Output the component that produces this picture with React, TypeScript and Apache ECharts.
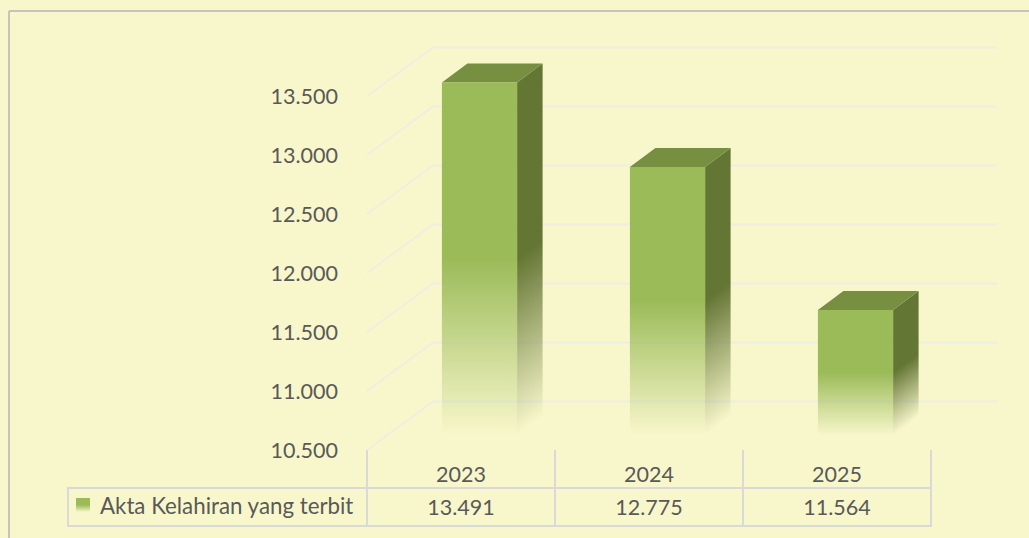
import React, { useEffect, useRef } from "react";
import * as echarts from "echarts";

const categories = ["2023", "2024", "2025"];
const seriesName = "Akta Kelahiran yang terbit";
const birthCertificates = [13491, 12775, 11564];
const axisTicks = [10500, 11000, 11500, 12000, 12500, 13000, 13500];

const BG = "#F8F7CB";
const FONT = "Lato, 'Open Sans', sans-serif";
const TEXT = "#595959";
const RULE = "#D9D9D9";
const FRAME = "#C4C4BC";
const NUM_SIZE = 21.5;
const WALL_DX = 66;
const WALL_DY = -48.5;
const BAR_SHIFT_X = 18.5;
const BAR_SHIFT_Y = -14.5;
const BAR_DX = 25.5;
const BAR_DY = -19;
const BAR_RATIO = 0.4;

const dotted = (v: number) => String(v).replace(/\B(?=(\d{3})+$)/g, ".");
const fade = (r: number, g: number, b: number) => [
  { offset: 0, color: `rgba(${r},${g},${b},1)` },
  { offset: 0.5, color: `rgba(${r},${g},${b},1)` },
  { offset: 1, color: `rgba(${r},${g},${b},0)` },
];

function renderWall(params: any, api: any) {
  const y0 = api.coord([0, api.value(1)])[1];
  const left = params.coordSys.x;
  const right = left + params.coordSys.width;
  return {
    type: "polyline",
    silent: true,
    shape: { points: [[left, y0], [left + WALL_DX, y0 + WALL_DY], [right + WALL_DX, y0 + WALL_DY]] },
    style: { stroke: "#EEEEE3", lineWidth: 2, fill: "none" },
  };
}

function renderBar(_params: any, api: any) {
  const [cx, yTop0] = api.coord([api.value(0), api.value(1)]);
  const [, yBase0] = api.coord([api.value(0), axisTicks[0]]);
  const w = api.size([1, 0])[0] * BAR_RATIO;
  const l = cx + BAR_SHIFT_X - w / 2;
  const r = l + w;
  const yTop = yTop0 + BAR_SHIFT_Y;
  const yBot = yBase0 + BAR_SHIFT_Y;
  const h = yBot - yTop;
  // Side gradient runs perpendicular to the receding top edge.
  const k = (h * BAR_DX) / (BAR_DX * BAR_DX + BAR_DY * BAR_DY);
  const sideFill = new echarts.graphic.LinearGradient(
    r, yTop, r + -BAR_DY * k, yTop + BAR_DX * k, fade(100, 118, 52), true
  );
  const frontFill = new echarts.graphic.LinearGradient(0, 0, 0, 1, fade(155, 187, 89));
  return {
    type: "group",
    silent: true,
    children: [
      {
        type: "polygon",
        shape: { points: [[r, yTop], [r + BAR_DX, yTop + BAR_DY], [r + BAR_DX, yBot + BAR_DY], [r, yBot]] },
        style: { fill: sideFill },
      },
      {
        type: "polygon",
        shape: { points: [[l, yTop], [l + BAR_DX, yTop + BAR_DY], [r + BAR_DX, yTop + BAR_DY], [r, yTop]] },
        style: { fill: "#768F41" },
      },
      {
        type: "rect",
        shape: { x: l, y: yTop, width: w, height: h },
        style: { fill: frontFill },
      },
    ],
  };
}

function renderCell(_params: any, api: any) {
  const [cx] = api.coord([api.value(0), api.value(1)]);
  return {
    type: "text",
    silent: true,
    style: {
      x: cx,
      y: 507,
      text: dotted(api.value(1)),
      align: "center",
      verticalAlign: "middle",
      fill: TEXT,
      font: `${NUM_SIZE}px ${FONT}`,
    },
  };
}

const rule = (x1: number, y1: number, x2: number, y2: number, stroke = RULE) => ({
  type: "line",
  silent: true,
  shape: { x1, y1, x2, y2 },
  style: { stroke, lineWidth: 2 },
});

export default function App() {
  const ref = useRef<HTMLDivElement>(null);
  useEffect(() => {
    document.body.style.margin = "0";
    document.body.style.background = BG;
    const chart = echarts.init(ref.current!, null, { renderer: "svg" });
    chart.setOption({
      animation: false,
      backgroundColor: BG,
      textStyle: { fontFamily: FONT },
      grid: { left: 367, top: 96, width: 564, height: 354, containLabel: false },
      xAxis: {
        type: "category",
        data: categories,
        axisLine: { show: false },
        axisTick: { show: false },
        splitLine: { show: false },
        axisLabel: { color: TEXT, fontSize: NUM_SIZE, fontFamily: FONT, margin: 13 },
      },
      yAxis: {
        type: "value",
        min: 10500,
        max: 13500,
        interval: 500,
        axisLine: { show: false },
        axisTick: { show: false },
        splitLine: { show: false },
        axisLabel: {
          color: TEXT,
          fontSize: NUM_SIZE,
          fontFamily: FONT,
          margin: 29,
          padding: [2, 0, 0, 0],
          formatter: (v: number) => dotted(v),
        },
      },
      legend: {
        data: [seriesName],
        left: 71,
        top: 489,
        icon: "rect",
        itemWidth: 14,
        itemHeight: 14,
        selectedMode: false,
        textStyle: { color: TEXT, fontSize: 22.3, fontFamily: FONT, padding: [0, 0, 0, 5] },
        itemStyle: {
          color: new echarts.graphic.LinearGradient(0, 0, 0, 1, fade(155, 187, 89)),
        },
      },
      series: [
        {
          name: "walls",
          type: "custom",
          renderItem: renderWall,
          data: axisTicks.map((t) => [0, t]),
          encode: { x: 0, y: 1 },
          z: 1,
          silent: true,
        },
        {
          name: seriesName,
          type: "custom",
          renderItem: renderBar,
          data: birthCertificates.map((v, i) => [i, v]),
          encode: { x: 0, y: 1 },
          itemStyle: { color: "#9BBB59" },
          z: 2,
          silent: true,
        },
        {
          name: "cells",
          type: "custom",
          renderItem: renderCell,
          data: birthCertificates.map((v, i) => [i, v]),
          encode: { x: 0, y: 1 },
          z: 3,
          silent: true,
        },
      ],
      graphic: [
        rule(9, 11, 1029, 11, FRAME),
        rule(9, 11, 9, 538, FRAME),
        rule(68, 488, 931, 488),
        rule(68, 526, 931, 526),
        rule(68, 487, 68, 527),
        rule(367, 450, 367, 527),
        rule(555, 450, 555, 527),
        rule(743, 450, 743, 527),
        rule(931, 450, 931, 527),
      ],
    });
    return () => chart.dispose();
  }, []);
  return <div ref={ref} style={{ position: "absolute", left: 0, top: 0, width: 1029, height: 538 }} />;
}
